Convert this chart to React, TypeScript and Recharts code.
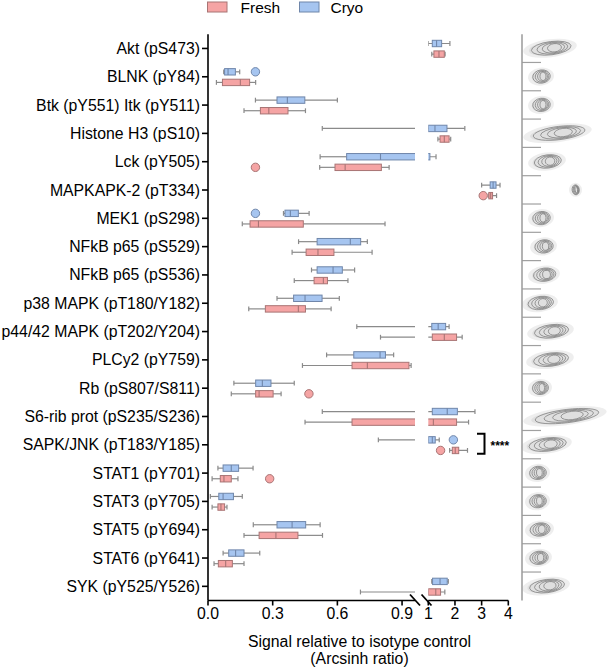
import { BarChart, Bar, XAxis, YAxis, ReferenceLine } from 'recharts';

const categories = [
  'Akt (pS473)',
  'BLNK (pY84)',
  'Btk (pY551) Itk (pY511)',
  'Histone H3 (pS10)',
  'Lck (pY505)',
  'MAPKAPK-2 (pT334)',
  'MEK1 (pS298)',
  'NFkB p65 (pS529)',
  'NFkB p65 (pS536)',
  'p38 MAPK (pT180/Y182)',
  'p44/42 MAPK (pT202/Y204)',
  'PLCy2 (pY759)',
  'Rb (pS807/S811)',
  'S6-rib prot (pS235/S236)',
  'SAPK/JNK (pT183/Y185)',
  'STAT1 (pY701)',
  'STAT3 (pY705)',
  'STAT5 (pY694)',
  'STAT6 (pY641)',
  'SYK (pY525/Y526)',
];

// cryo box stats
const cryoMin = [1.0, 0.073, 0.22, 0.53, 0.52, 3.0, 0.35, 0.42, 0.48, 0.32, 0.69, 0.55, 0.12, 0.53, 0.79, 0.046, 0.011, 0.21, 0.07, 1.13];
const cryoQ1 = [1.15, 0.077, 0.32, 1.0, 0.643, 3.32, 0.357, 0.506, 0.506, 0.397, 1.13, 0.676, 0.221, 1.15, 1.0, 0.07, 0.05, 0.32, 0.096, 1.16];
const cryoMed = [1.31, 0.093, 0.368, 1.25, 0.8, 3.43, 0.382, 0.66, 0.58, 0.45, 1.37, 0.798, 0.252, 1.71, 1.15, 0.108, 0.07, 0.39, 0.128, 1.44];
const cryoQ3 = [1.5, 0.127, 0.449, 1.7, 1.06, 3.54, 0.419, 0.708, 0.623, 0.529, 1.65, 0.823, 0.292, 2.09, 1.26, 0.142, 0.118, 0.453, 0.167, 1.71];
const cryoMax = [1.81, 0.147, 0.6, 2.37, 1.29, 3.69, 0.469, 0.739, 0.68, 0.609, 1.78, 0.861, 0.4, 2.75, 1.41, 0.209, 0.159, 0.52, 0.24, 1.75];
const cryoOut = [[], [0.22], [], [], [], [], [0.22], [], [], [], [], [], [], [], [1.94], [], [], [], [], []];

// fresh box stats
const freshMin = [1.13, 0.039, 0.167, 1.36, 0.518, 3.27, 0.159, 0.39, 0.4, 0.189, 0.8, 0.438, 0.108, 0.45, 1.8, 0.019, 0.019, 0.167, 0.028, 0.707];
const freshQ1 = [1.21, 0.067, 0.243, 1.44, 0.589, 3.27, 0.195, 0.455, 0.492, 0.266, 1.15, 0.668, 0.221, 0.668, 1.9, 0.057, 0.046, 0.237, 0.048, 1.0];
const freshMed = [1.4, 0.15, 0.282, 1.6, 0.636, 3.34, 0.234, 0.51, 0.535, 0.419, 1.6, 0.739, 0.237, 1.19, 2.01, 0.074, 0.06, 0.315, 0.082, 1.28];
const freshQ3 = [1.6, 0.193, 0.371, 1.78, 0.804, 3.41, 0.442, 0.584, 0.554, 0.452, 2.06, 0.932, 0.302, 2.06, 2.14, 0.108, 0.077, 0.417, 0.113, 1.46];
const freshMax = [1.63, 0.221, 0.452, 1.84, 0.84, 3.56, 0.821, 0.761, 0.649, 0.571, 2.27, 0.942, 0.339, 2.51, 2.47, 0.139, 0.088, 0.531, 0.167, 1.62];
const freshOut = [[], [], [], [], [0.22], [3.06], [], [], [], [], [], [], [0.468], [], [1.46], [0.286], [], [], [], []];

// extent of the contour thumbnails (arbitrary units, 0 = left edge of panel)
const thumbLo = [3, 8, 8, 3, 8, 49, 8, 10, 8, 2, 7, 6, 8, 3, 1, 5, 5, 5, 5, 2];
const thumbHi = [53, 30, 30, 68, 42, 58, 30, 33, 36, 34, 50, 50, 28, 83, 48, 26, 26, 30, 28, 46];

const leftTicks = [0, 0.3, 0.6, 0.9];
const rightTicks = [1, 2, 3, 4];

const W = 610;
const H = 669;
const TOP = 34.3;
const BOTTOM = 600.5;
const BAND = (BOTTOM - TOP) / categories.length;

const COLORS: any = {
  cryo: { fill: '#A6C5F0', stroke: '#6F86AA' },
  fresh: { fill: '#F5A4A4', stroke: '#A87474' },
};
const WHISKER = '#8a8a8a';

const rows = categories.map((name, i) => ({
  name,
  idx: i,
  cryo: [cryoMin[i], cryoMax[i]],
  fresh: [freshMin[i], freshMax[i]],
  cryoStats: { min: cryoMin[i], q1: cryoQ1[i], med: cryoMed[i], q3: cryoQ3[i], max: cryoMax[i], out: cryoOut[i] },
  freshStats: { min: freshMin[i], q1: freshQ1[i], med: freshMed[i], q3: freshQ3[i], max: freshMax[i], out: freshOut[i] },
  thumb: [thumbLo[i], thumbHi[i]],
}));

function BoxShape(props: any) {
  const { x, y, width, height, payload, kind } = props;
  const st = payload[kind + 'Stats'];
  const c = COLORS[kind];
  // bar spans min..max, so positions inside are linear in between
  const px = (v: number) => x + (width * (v - st.min)) / (st.max - st.min);
  const cy = y + height / 2;
  const cap = 2.4;
  return (
    <g>
      <line x1={px(st.min)} x2={px(st.q1)} y1={cy} y2={cy} stroke={WHISKER} strokeWidth={1.2} />
      <line x1={px(st.q3)} x2={px(st.max)} y1={cy} y2={cy} stroke={WHISKER} strokeWidth={1.2} />
      <line x1={px(st.min)} x2={px(st.min)} y1={cy - cap} y2={cy + cap} stroke={WHISKER} strokeWidth={1.2} />
      <line x1={px(st.max)} x2={px(st.max)} y1={cy - cap} y2={cy + cap} stroke={WHISKER} strokeWidth={1.2} />
      <rect
        x={px(st.q1)}
        y={y}
        width={px(st.q3) - px(st.q1)}
        height={height}
        fill={c.fill}
        stroke={c.stroke}
        strokeWidth={1}
      />
      <line x1={px(st.med)} x2={px(st.med)} y1={y} y2={y + height} stroke={c.stroke} strokeWidth={1.1} />
      {st.out.map((o: number, k: number) => (
        <circle key={k} cx={px(o)} cy={cy} r={4.2} fill={c.fill} stroke={c.stroke} strokeWidth={1} />
      ))}
    </g>
  );
}

function ThumbShape(props: any) {
  const { x, y, width, height, payload } = props;
  const [lo, hi] = payload.thumb;
  const px = (v: number) => x + (width * (v - lo)) / (hi - lo);
  const cx = x + width / 2;
  const cy = y + height / 2;
  const rx = width / 2;
  const ry = Math.min(8, rx + 1.5);
  const levels = [0.8, 0.62, 0.45, 0.28];
  const last = payload.idx === categories.length - 1;
  const rot = `rotate(-7 ${cx} ${cy})`;
  return (
    <g>
      <ellipse cx={cx} cy={cy} rx={rx + 2} ry={ry + 1} fill="#e2e2e2" opacity={0.6} transform={rot} />
      <ellipse cx={cx} cy={cy} rx={rx * 0.85} ry={ry * 0.85} fill="#cfcfcf" opacity={0.5} transform={rot} />
      {levels.map((k) => (
        <ellipse
          key={k}
          cx={cx + (1 - k) * rx * 0.25}
          cy={cy}
          rx={rx * k}
          ry={ry * (0.35 + k * 0.6)}
          fill="none"
          stroke="#7a7a7a"
          strokeWidth={0.7}
          transform={rot}
        />
      ))}
      {!last && (
        <line x1={px(0)} x2={px(19)} y1={cy + BAND / 2} y2={cy + BAND / 2} stroke="#a0a0a0" strokeWidth={1.2} />
      )}
    </g>
  );
}

const YTick = (props: any) => {
  const { x, y, payload } = props;
  return (
    <text x={x} y={y} dy="0.35em" textAnchor="end" fontSize={15.8} fill="#000">
      {payload.value}
    </text>
  );
};

const axisStyle = { stroke: '#000', strokeWidth: 1.6 };
const tickStyle = { fontSize: 15.8, fill: '#000' };

export default function App() {
  const sapkY = TOP + BAND * 14.5;
  return (
    <div
      style={{
        position: 'absolute',
        left: 0,
        top: 0,
        width: W,
        height: H,
        background: '#fff',
        fontFamily: '"Liberation Sans", Arial, sans-serif',
      }}
    >
      <div style={{ position: 'absolute', left: 0, top: 0 }}>
        <BarChart
          width={420}
          height={H}
          data={rows}
          layout="vertical"
          margin={{ top: TOP, right: 5, bottom: H - BOTTOM - 30, left: 0 }}
          barSize={6.4}
          barGap={4.2}
        >
          <XAxis
            type="number"
            domain={[0, 0.96]}
            ticks={leftTicks}
            allowDataOverflow
            tickFormatter={(v) => v.toFixed(1)}
            axisLine={axisStyle}
            tickLine={axisStyle}
            tickSize={5}
            tick={tickStyle}
            height={30}
          />
          <YAxis
            type="category"
            dataKey="name"
            width={208}
            axisLine={axisStyle}
            tickLine={axisStyle}
            tickSize={6}
            tickMargin={2}
            tick={<YTick />}
            interval={0}
          />
          <Bar dataKey="cryo" isAnimationActive={false} shape={(p: any) => <BoxShape {...p} kind="cryo" />} />
          <Bar dataKey="fresh" isAnimationActive={false} shape={(p: any) => <BoxShape {...p} kind="fresh" />} />
        </BarChart>
      </div>

      <div style={{ position: 'absolute', left: 400, top: 0 }}>
        <BarChart
          width={130}
          height={H}
          data={rows}
          layout="vertical"
          margin={{ top: TOP, right: 21.7, bottom: H - BOTTOM - 30, left: 28.3 }}
          barSize={6.4}
          barGap={4.2}
        >
          <XAxis
            type="number"
            domain={[1, 4]}
            ticks={rightTicks}
            allowDataOverflow
            axisLine={axisStyle}
            tickLine={axisStyle}
            tickSize={5}
            tick={tickStyle}
            height={30}
          />
          <YAxis type="category" dataKey="name" hide />
          <Bar dataKey="cryo" isAnimationActive={false} shape={(p: any) => <BoxShape {...p} kind="cryo" />} />
          <Bar dataKey="fresh" isAnimationActive={false} shape={(p: any) => <BoxShape {...p} kind="fresh" />} />
        </BarChart>
      </div>

      <div style={{ position: 'absolute', left: 500, top: 0 }}>
        <BarChart
          width={110}
          height={H}
          data={rows}
          layout="vertical"
          margin={{ top: TOP, right: 0, bottom: H - BOTTOM, left: 22 }}
          barSize={6}
        >
          <XAxis type="number" domain={[0, 88]} hide />
          <YAxis type="category" dataKey="name" hide />
          <ReferenceLine x={0} stroke="#9a9a9a" strokeWidth={1.5} />
          <Bar dataKey="thumb" isAnimationActive={false} shape={(p: any) => <ThumbShape {...p} />} />
        </BarChart>
      </div>

      <svg width={W} height={H} style={{ position: 'absolute', left: 0, top: 0, pointerEvents: 'none' }}>
        {/* legend */}
        <rect x={207.5} y={2} width={19.5} height={10} fill={COLORS.fresh.fill} stroke={COLORS.fresh.stroke} />
        <text x={240.5} y={12.5} fontSize={15.5} fill="#000">Fresh</text>
        <rect x={299.5} y={2} width={19.5} height={10} fill={COLORS.cryo.fill} stroke={COLORS.cryo.stroke} />
        <text x={330.5} y={12.5} fontSize={15.5} fill="#000">Cryo</text>

        {/* axis break */}
        <line x1={410} y1={594.5} x2={420} y2={605.5} stroke="#000" strokeWidth={1.8} />
        <line x1={421.5} y1={594.5} x2={431.5} y2={605.5} stroke="#000" strokeWidth={1.8} />

        {/* significance */}
        <path
          d={`M477 ${sapkY - 11} H484.5 V${sapkY + 9} H477`}
          fill="none"
          stroke="#000"
          strokeWidth={2}
        />
        <text x={490.5} y={sapkY + 5.5} fontSize={12} fontWeight="bold" fill="#000">****</text>

        {/* axis title */}
        <text x={359.5} y={646.5} fontSize={15.8} textAnchor="middle" fill="#000">
          Signal relative to isotype control
        </text>
        <text x={359.5} y={664} fontSize={15.8} textAnchor="middle" fill="#000">
          (Arcsinh ratio)
        </text>
      </svg>
    </div>
  );
}
